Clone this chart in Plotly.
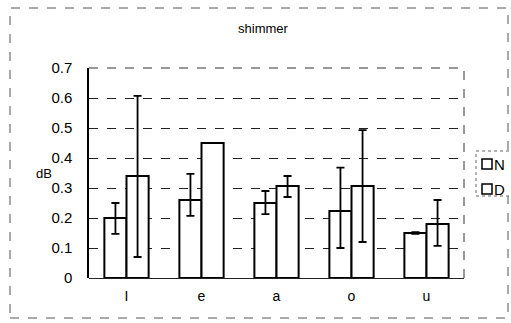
import plotly.graph_objects as go

categories = ["I", "e", "a", "o", "u"]
n_values = [0.20, 0.26, 0.25, 0.223, 0.15]
n_err_plus = [0.05, 0.087, 0.04, 0.145, 0.003]
n_err_minus = [0.053, 0.053, 0.037, 0.123, 0.003]
d_values = [0.34, 0.45, 0.307, 0.307, 0.18]
d_err_plus = [0.267, 0.0, 0.033, 0.186, 0.08]
d_err_minus = [0.27, 0.0, 0.037, 0.187, 0.073]
legend_names = ["N", "D"]
y_ticks = [0, 0.1, 0.2, 0.3, 0.4, 0.5, 0.6, 0.7]
y_tick_labels = ["0", "0.1", "0.2", "0.3", "0.4", "0.5", "0.6", "0.7"]

W, H = 511, 323
# target plot area (page pixels): x 89..464, y 68..278
ml, mt = 89, 68
mr = W - 464
mb = H - 278
pw, ph = W - ml - mr, H - mt - mb


def px_x(p):
    return (p - ml) / pw


def px_y(p):
    return (H - mb - p) / ph


font = "Liberation Sans, Arial, sans-serif"

fig = go.Figure()
for name, vals, ep, em in [("N", n_values, n_err_plus, n_err_minus),
                           ("D", d_values, d_err_plus, d_err_minus)]:
    fig.add_trace(go.Bar(
        name=name, x=categories, y=vals,
        marker=dict(color="white", line=dict(color="black", width=2)),
        error_y=dict(type="data", array=ep, arrayminus=em, visible=True,
                     color="black", thickness=1.8, width=4),
        showlegend=False,
    ))

shapes = [
    dict(type="line", xref="paper", yref="paper", x0=0, x1=1, y0=1, y1=1,
         line=dict(color="#333", width=1, dash="dash")),
    dict(type="line", xref="paper", yref="paper", x0=1, x1=1, y0=0, y1=1,
         line=dict(color="#333", width=1, dash="dash")),
    # outer chart frame
    dict(type="rect", xref="paper", yref="paper",
         x0=px_x(10), x1=px_x(508), y0=px_y(318), y1=px_y(8),
         line=dict(color="#555", width=1, dash="dash")),
    # legend box
    dict(type="rect", xref="paper", yref="paper",
         x0=px_x(476), x1=px_x(515), y0=px_y(196), y1=px_y(151),
         line=dict(color="#666", width=1, dash="dot"), fillcolor="white"),
]
annotations = [
    dict(text="dB", xref="paper", yref="paper", x=px_x(34), y=px_y(173),
         showarrow=False, font=dict(size=13, family=font)),
]
for i, name in enumerate(legend_names):
    cy = 164 + 25 * i
    shapes.append(dict(type="rect", xref="paper", yref="paper",
                       x0=px_x(482), x1=px_x(492), y0=px_y(cy + 5), y1=px_y(cy - 5),
                       line=dict(color="black", width=1.5), fillcolor="white"))
    annotations.append(dict(text=name, xref="paper", yref="paper",
                            x=px_x(493), y=px_y(cy), xanchor="left",
                            yanchor="middle", showarrow=False, borderpad=0,
                            font=dict(size=15, family=font)))

fig.update_layout(
    width=W, height=H,
    margin=dict(l=ml, r=mr, t=mt, b=mb, autoexpand=False),
    paper_bgcolor="white", plot_bgcolor="white",
    barmode="group", bargap=0.41, bargroupgap=0,
    font=dict(family=font, color="black", size=14),
    title=dict(text="shimmer", x=263 / W, xanchor="center",
               y=1 - 28 / H, yanchor="middle",
               font=dict(size=13, family=font)),
    showlegend=False,
    xaxis=dict(showgrid=False, showline=False, ticks="", automargin=False,
               tickfont=dict(size=14), ticklabelstandoff=8),
    yaxis=dict(range=[0, 0.7], tickvals=y_ticks, ticktext=y_tick_labels,
               automargin=False,
               showgrid=True, gridcolor="#222", griddash="dash", gridwidth=1,
               zeroline=True, zerolinecolor="#222", zerolinewidth=1,
               showline=True, linecolor="black", linewidth=1.5,
               ticks="", ticklabelstandoff=12, tickfont=dict(size=15)),
    annotations=annotations,
    shapes=shapes,
)
fig.write_html(
    "out.html",
    config={"displayModeBar": False},
    post_script="document.body.style.margin='0';"
                "document.body.style.overflow='hidden';"
                "document.documentElement.style.overflow='hidden';",
)
